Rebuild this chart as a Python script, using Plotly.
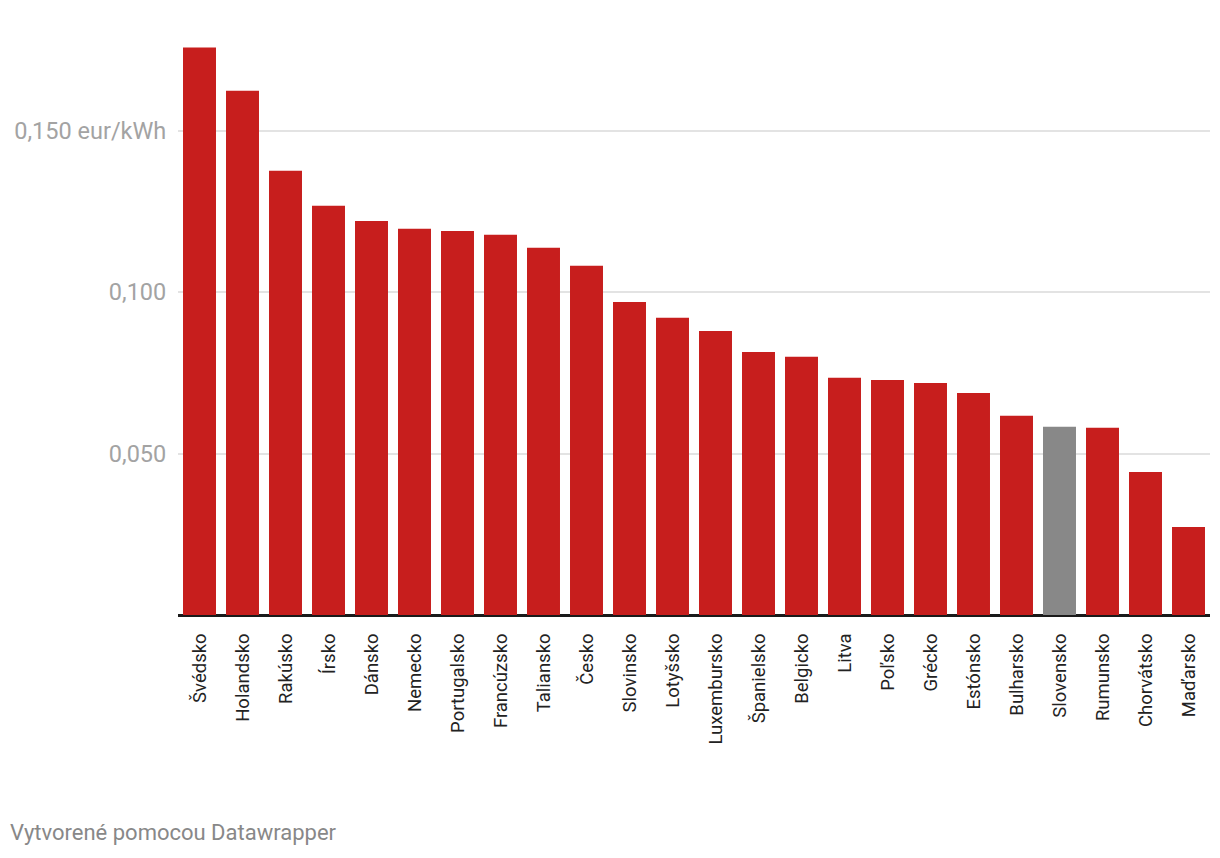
import plotly.graph_objects as go

countries = ["Švédsko", "Holandsko", "Rakúsko", "Írsko", "Dánsko", "Nemecko", "Portugalsko",
             "Francúzsko", "Taliansko", "Česko", "Slovinsko", "Lotyšsko", "Luxembursko",
             "Španielsko", "Belgicko", "Litva", "Poľsko", "Grécko", "Estónsko", "Bulharsko",
             "Slovensko", "Rumunsko", "Chorvátsko", "Maďarsko"]
values = [0.1758, 0.1624, 0.1376, 0.1268, 0.1221, 0.1197, 0.1190, 0.1178, 0.1138, 0.1082,
          0.0970, 0.0921, 0.0880, 0.0815, 0.0800, 0.0735, 0.0728, 0.0719, 0.0688, 0.0617,
          0.0583, 0.0580, 0.0443, 0.0273]
highlight = "Slovensko"
tick_vals = [0.05, 0.10, 0.15]
tick_text = ["0,050", "0,100", "0,150 eur/kWh"]

colors = ["#888888" if c == highlight else "#c71e1d" for c in countries]

fig = go.Figure(go.Bar(x=countries, y=values, marker_color=colors, marker_line_width=0,
                       hoverinfo="x+y"))

# page body has an 8px default margin; compensate so the plot lands where it should
W, H = 1212, 850
ml, mr, mt, mb = 170, 10, 26, 243

fig.update_layout(
    width=W, height=H,
    margin=dict(l=ml, r=mr, t=mt, b=mb),
    plot_bgcolor="white", paper_bgcolor="white",
    bargap=0.233,
    showlegend=False,
    font=dict(family="Roboto, sans-serif"),
)
fig.update_xaxes(
    tickangle=-90,
    tickfont=dict(size=18.5, color="#222222"),
    showgrid=False,
    showline=False,
    ticks="outside", ticklen=10, tickcolor="rgba(0,0,0,0)",
    automargin=False,
    fixedrange=True,
)
fig.update_yaxes(
    range=[0, 0.18],
    tickvals=tick_vals, ticktext=tick_text,
    tickfont=dict(size=23.5, color="#a3a3a3"),
    showgrid=True, gridcolor="#e3e3e3", gridwidth=1.5,
    zeroline=True, zerolinecolor="#1a1a1a", zerolinewidth=2.5,
    ticks="outside", ticklen=6, tickcolor="rgba(0,0,0,0)",
    automargin=False,
    fixedrange=True,
)

plot_w = W - ml - mr
plot_h = H - mt - mb
fig.add_annotation(
    text="Vytvorené pomocou Datawrapper",
    xref="paper", yref="paper",
    x=(0 - ml) / plot_w, y=(H - mb - 824) / plot_h,
    xanchor="left", yanchor="middle",
    showarrow=False,
    font=dict(size=22, color="#888888", family="Roboto, sans-serif"),
)

fig.write_html("out.html")
